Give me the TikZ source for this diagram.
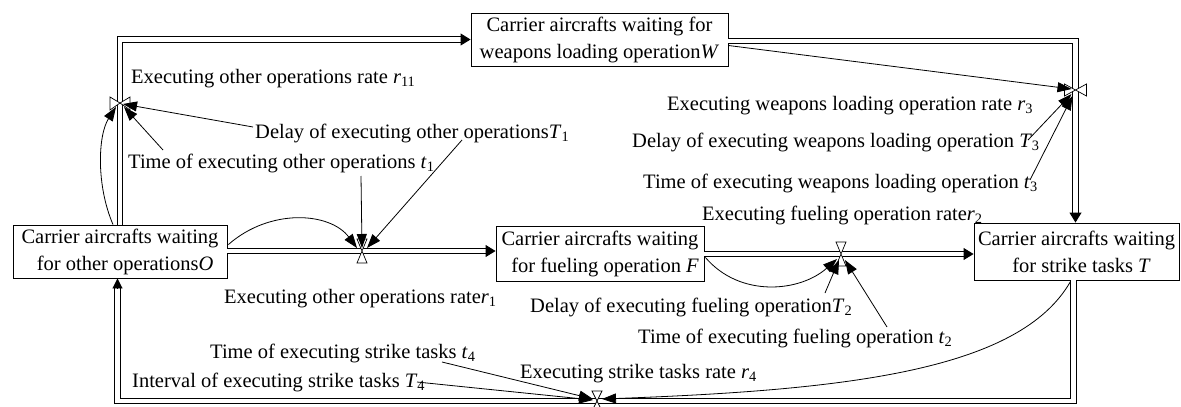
\documentclass[tikz,border=0pt]{standalone}
\usepackage{fontspec}
\setmainfont{Liberation Serif}
\usetikzlibrary{arrows.meta,calc}
\newcommand{\vv}[2]{\textit{#1}\textsubscript{#2}}
\begin{document}
\begin{tikzpicture}[x=1pt,y=-1pt,
  box/.style={draw, line width=0.9pt, align=center, inner sep=0pt, font=\fontsize{20.5}{27}\selectfont},
  lbl/.style={anchor=base west, inner sep=0pt, font=\fontsize{20.5}{24}\selectfont},
  pipe/.style={double, double distance=4.5pt, line width=0.9pt, shorten >=9pt},
  pipetip/.style={-{Triangle[length=10pt,width=12pt]}, line width=0.9pt},
  link/.style={line width=0.8pt, -{Triangle[length=14pt,width=10pt]}},
  valveshape/.style={fill=white, draw, line width=0.7pt}]
\useasboundingbox (0,0) rectangle (1181,407);

% stocks
\node[box, minimum width=214pt, minimum height=53pt] (O) at (120,251.5) {Carrier aircrafts waiting\\ \ \ for other operations\textit{O}};
\node[box, minimum width=257pt, minimum height=53pt] (W) at (599.5,39.5) {Carrier aircrafts waiting for\\ weapons loading operation\textit{W}};
\node[box, minimum width=208pt, minimum height=55pt] (F) at (600,253.5) {Carrier aircrafts waiting\\ \ \ for fueling operation \textit{F}};
\node[box, minimum width=205pt, minimum height=57pt] (T) at (1076.5,251.5) {Carrier aircrafts waiting\\ \ \ for strike tasks \textit{T}};

% valve positions
\coordinate (v11) at (120,103);
\coordinate (v1) at (362,251);
\coordinate (v2) at (841,254);
\coordinate (v3) at (1075.5,90);
\coordinate (v4) at (597,401);
\coordinate (bl) at (117.5,401);

% pipes
\draw[pipe] (O.north) |- (W.west);
\draw[pipetip] ($(W.west)+(-10,0)$) -- (W.west);
\draw[pipe] ($(W.east)+(0,1.5)$) -| ($(T.north)+(-1,0)$);
\draw[pipetip] ($(T.north)+(-1,-10)$) -- ($(T.north)+(-1,0)$);
\draw[pipe] ($(O.east)+(0,-0.5)$) -- ($(F.west)+(0,-2.5)$);
\draw[pipetip] ($(F.west)+(-10,-2.5)$) -- ($(F.west)+(0,-2.5)$);
\draw[pipe] ($(F.east)+(0,0.5)$) -- ($(T.west)+(0,2.5)$);
\draw[pipetip] ($(T.west)+(-10,2.5)$) -- ($(T.west)+(0,2.5)$);
\draw[pipe] ($(T.south)+(-3,0)$) |- (bl) -- ($(O.south)+(-2.5,0)$);
\draw[-{Triangle[length=10pt,width=10pt]}, line width=0.9pt] ($(O.south)+(-2.5,10)$) -- ($(O.south)+(-2.5,0)$);

% valves
\draw[valveshape] (v11) -- ++(-10,-6) -- ++(0,13) -- cycle (v11) -- ++(10,-6) -- ++(0,13) -- cycle;
\draw[valveshape] (v1) -- ++(-5,-12) -- ++(10,0) -- cycle (v1) -- ++(-5,12) -- ++(10,0) -- cycle;
\draw[valveshape] (v2) -- ++(-5,-12) -- ++(10,0) -- cycle (v2) -- ++(-5,12) -- ++(10,0) -- cycle;
\draw[valveshape] (v3) -- ++(-11,-6) -- ++(0,12) -- cycle (v3) -- ++(11,-6) -- ++(0,12) -- cycle;
\draw[valveshape] (v4) -- ++(-5,-10) -- ++(10,0) -- cycle (v4) -- ++(-5,10) -- ++(10,0) -- cycle;

% labels
\node[lbl] (r11) at (131,83) {Executing other operations rate \vv{r}{11}};
\node[lbl] (T1) at (255,138) {Delay of executing other operations\vv{T}{1}};
\node[lbl] (t1) at (128,168) {Time of executing other operations \vv{t}{1}};
\node[lbl] (r3) at (667,110) {Executing weapons loading operation rate \vv{r}{3}};
\node[lbl] (T3) at (632,147) {Delay of executing weapons loading operation \vv{T}{3}};
\node[lbl] (t3) at (643,188) {Time of executing weapons loading operation \vv{t}{3}};
\node[lbl] (r2) at (702,220) {Executing fueling operation rate\vv{r}{2}};
\node[lbl] (r1) at (224,303) {Executing other operations rate\vv{r}{1}};
\node[lbl] (T2) at (530,312) {Delay of executing fueling operation\vv{T}{2}};
\node[lbl] (t2) at (638,343) {Time of executing fueling operation \vv{t}{2}};
\node[lbl] (t4) at (210,358) {Time of executing strike tasks \vv{t}{4}};
\node[lbl] (T4) at (132,387) {Interval of executing strike tasks \vv{T}{4}};
\node[lbl] (r4) at (520,378) {Executing strike tasks rate \vv{r}{4}};

% information links
\draw[link] ($(O.north)+(-7,0)$) .. controls (96,185) and (98,135) .. ($(v11)+(-4,4)$);
\draw[link] ($(T1.west)+(-2,-6)$) -- ($(v11)+(3,1)$);
\draw[link] (163,150) -- ($(v11)+(4,4)$);

\draw[link] ($(O.east)+(1,-7)$) .. controls (270,208) and (330,212) .. ($(v1)+(-5,-3)$);
\draw[link] (361,176) -- ($(v1)+(0,-3)$);
\draw[link] (462,140) -- ($(v1)+(5,-3)$);

\draw[link] ($(F.east)+(1,4)$) .. controls (740,298) and (800,292) .. ($(v2)+(-4,5)$);
\draw[link] (825,293) -- ($(v2)+(-2,6)$);
\draw[link] (887,327) -- ($(v2)+(4,6)$);

\draw[link] ($(W.east)+(0,6)$) -- ($(v3)+(-4,-1)$);
\draw[link] (1028,140) -- ($(v3)+(-4,4)$);
\draw[link] (1030,180) -- ($(v3)+(-3,6)$);

\draw[link] (442,362) -- ($(v4)+(-4,-2)$);
\draw[link] (417,382) -- ($(v4)+(-4,-1)$);
\draw[link] ($(T.south)+(-6,1)$) .. controls (1020,370) and (850,390) .. ($(v4)+(5,-2)$);
\end{tikzpicture}
\end{document}
